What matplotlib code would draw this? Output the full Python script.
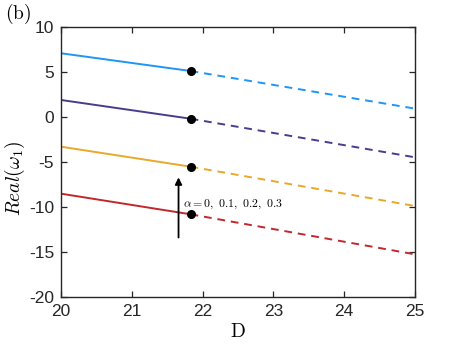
import numpy as np
import matplotlib.pyplot as plt

plt.rcParams['mathtext.fontset'] = 'cm'
plt.rcParams['font.family'] = ['Liberation Sans', 'DejaVu Sans']
plt.rcParams['axes.unicode_minus'] = False

# D values: start, critical point, end
d_start = 20.0
d_crit = 21.83
d_end = 25.0

# Real(omega_1) for alpha = 0.3, 0.2, 0.1, 0 (top to bottom)
y_start = [7.08, 1.89, -3.30, -8.52]
y_crit = [5.11, -0.19, -5.52, -10.81]
y_end = [0.93, -4.48, -9.89, -15.26]
colors = ['#1f95f5', '#4a3c8c', '#e8a92a', '#c0282d']

fig = plt.figure(figsize=(4.6, 3.46), dpi=100)
ax = fig.add_axes([0.1326, 0.1416, 0.7696, 0.7804])

for y0, yc, y1, c in zip(y_start, y_crit, y_end, colors):
    ax.plot([d_start, d_crit], [y0, yc], color=c, lw=1.4, solid_capstyle='butt')
    ax.plot([d_crit, d_end], [yc, y1], color=c, lw=1.4, ls=(0, (4, 3)))
    ax.plot([d_crit], [yc], 'o', color='black', ms=5.5, zorder=5)

ax.annotate('', xy=(21.66, -6.4), xytext=(21.66, -13.7),
            arrowprops=dict(arrowstyle='-|>', color='black', lw=1.3,
                            mutation_scale=10))
ax.text(21.72, -9.75, r'$\alpha=0,\ 0.1,\ 0.2,\ 0.3$', fontsize=8.5,
        va='center', ha='left')

ax.set_xlim(20, 25)
ax.set_ylim(-20, 10)
ax.set_xticks(np.arange(20, 26, 1))
ax.set_yticks(np.arange(-20, 11, 5))
ax.tick_params(direction='in', top=True, right=True, labelsize=12.5,
               length=4, width=0.9, colors='#262626', pad=5)
for s in ax.spines.values():
    s.set_color('#262626')
    s.set_linewidth(1.0)

ax.set_xlabel(r'$\mathrm{D}$', fontsize=14, labelpad=3)
ax.set_ylabel(r'$Real(\omega_1)$', fontsize=14)
ax.yaxis.set_label_coords(-0.097, 0.44)
fig.text(0.01, 0.96, r'$\mathrm{(b)}$', fontsize=14, va='center')

fig.savefig('out.png', dpi=100)
